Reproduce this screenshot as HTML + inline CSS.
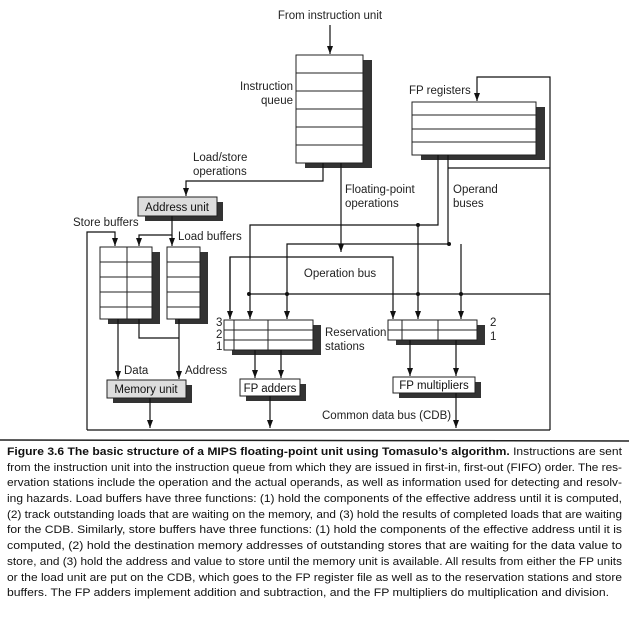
<!DOCTYPE html>
<html><head><meta charset="utf-8"><style>
html,body{margin:0;padding:0;background:#fff;}
svg{display:block;font-family:"Liberation Sans",sans-serif;}
</style></head><body>
<svg width="629" height="617" viewBox="0 0 629 617" xmlns="http://www.w3.org/2000/svg">
<defs>
<marker id="a" markerWidth="8" markerHeight="6" refX="8" refY="3" orient="auto" markerUnits="userSpaceOnUse">
<path d="M0,0 L8,3 L0,6 Z" fill="#111"/>
</marker>
</defs>
<g font-size="11.5" fill="#222">
<text x="330" y="19" text-anchor="middle">From instruction unit</text>
<text x="293" y="90" text-anchor="end">Instruction</text>
<text x="293" y="104" text-anchor="end">queue</text>
<text x="409" y="94">FP registers</text>
<text x="193" y="161">Load/store</text>
<text x="193" y="175">operations</text>
<text x="345" y="193">Floating-point</text>
<text x="345" y="207">operations</text>
<text x="453" y="193">Operand</text>
<text x="453" y="207">buses</text>
<text x="73" y="226">Store buffers</text>
<text x="178" y="240">Load buffers</text>
<text x="340" y="277" text-anchor="middle">Operation bus</text>
<text x="325" y="336">Reservation</text>
<text x="325" y="350">stations</text>
<text x="216" y="326">3</text><text x="216" y="338">2</text><text x="216" y="350">1</text>
<text x="490" y="326">2</text><text x="490" y="340">1</text>
<text x="124" y="374">Data</text>
<text x="185" y="374">Address</text>
<text x="322" y="419">Common data bus (CDB)</text>
</g>
<g fill="#333">
<rect x="363" y="60" width="9" height="108"/><rect x="305" y="163" width="67" height="5"/>
<rect x="536" y="107" width="9" height="53"/><rect x="421" y="155" width="124" height="5"/>
<rect x="217" y="202" width="6" height="19"/><rect x="145" y="216" width="78" height="5"/>
<rect x="152" y="252" width="8" height="72"/><rect x="108" y="319" width="52" height="5"/>
<rect x="200" y="252" width="8" height="72"/><rect x="175" y="319" width="33" height="5"/>
<rect x="313" y="325" width="8" height="30"/><rect x="232" y="350" width="89" height="5"/>
<rect x="477" y="325" width="8" height="20"/><rect x="396" y="340" width="89" height="5"/>
<rect x="186" y="385" width="6" height="18"/><rect x="113" y="398" width="79" height="5"/>
<rect x="300" y="384" width="6" height="17"/><rect x="246" y="396" width="60" height="5"/>
<rect x="475" y="382" width="6" height="16"/><rect x="399" y="393" width="82" height="5"/>
</g>
<g fill="#fff" stroke="#222" stroke-width="1">
<rect x="296" y="55" width="67" height="108"/>
<rect x="412" y="102" width="124" height="53"/>
<rect x="138" y="197" width="79" height="19" fill="#ddd"/>
<rect x="100" y="247" width="52" height="72"/>
<rect x="167" y="247" width="33" height="72"/>
<rect x="224" y="320" width="89" height="30"/>
<rect x="388" y="320" width="89" height="20"/>
<rect x="107" y="380" width="79" height="18" fill="#ddd"/>
<rect x="240" y="379" width="60" height="17"/>
<rect x="393" y="377" width="82" height="16"/>
</g>
<g font-size="11.5" fill="#111" text-anchor="middle">
<text x="177" y="211">Address unit</text>
<text x="146" y="393">Memory unit</text>
<text x="270" y="392">FP adders</text>
<text x="434" y="389">FP multipliers</text>
</g>
<g stroke="#222" stroke-width="1" fill="none">
<path d="M296 73H363M296 91H363M296 109H363M296 127H363M296 145H363"/>
<path d="M412 115H536M412 129H536M412 142H536"/>
<path d="M100 262H152M100 277H152M100 292H152M100 307H152M127 247V319"/>
<path d="M167 262H200M167 277H200M167 292H200M167 307H200"/>
<path d="M224 330H313M224 340H313M234 320V350M268 320V350"/>
<path d="M388 330H477M402 320V340M438 320V340"/>
</g>
<g stroke="#111" stroke-width="1.2" fill="none">
<path d="M330 25V54" marker-end="url(#a)"/>
<path d="M550 430V77H477V101" marker-end="url(#a)"/>
<path d="M448 168H550"/>
<path d="M323 163V181H186V196" marker-end="url(#a)"/>
<path d="M341 163V252" marker-end="url(#a)"/>
<path d="M87 430V232H115V246" marker-end="url(#a)"/>
<path d="M172 216V235H139V246" marker-end="url(#a)"/>
<path d="M172 235V246" marker-end="url(#a)"/>
<path d="M118 319V379" marker-end="url(#a)"/>
<path d="M179 319V379" marker-end="url(#a)"/>
<path d="M139 319V338H179"/>
<path d="M438 155V225H250V319" marker-end="url(#a)"/>
<path d="M418 225V319" marker-end="url(#a)"/>
<path d="M448 155V244H287V319" marker-end="url(#a)"/>
<path d="M461 244V319" marker-end="url(#a)"/>
<path d="M230 319V257H393V319" marker-end="url(#a)"/>
<path d="M230 257V319" marker-end="url(#a)"/>
<path d="M249 294H550"/>
<path d="M255 350V378" marker-end="url(#a)"/>
<path d="M281 350V378" marker-end="url(#a)"/>
<path d="M410 340V376" marker-end="url(#a)"/>
<path d="M456 340V376" marker-end="url(#a)"/>
<path d="M150 398V428" marker-end="url(#a)"/>
<path d="M270 396V428" marker-end="url(#a)"/>
<path d="M456 393V428" marker-end="url(#a)"/>
<path d="M87 430H550"/>
</g>
<g fill="#111">
<circle cx="418" cy="225" r="2"/><circle cx="449" cy="244" r="2"/>
<circle cx="249" cy="294" r="2"/><circle cx="287" cy="294" r="2"/>
<circle cx="418" cy="294" r="2"/><circle cx="461" cy="294" r="2"/>
</g>
<path d="M0 440 L629 441" stroke="#222" stroke-width="1.5"/>
<g font-size="11.3" fill="#111">
<text x="7" y="455" textLength="615" lengthAdjust="spacingAndGlyphs"><tspan font-weight="bold">Figure 3.6 The basic structure of a MIPS floating-point unit using Tomasulo’s algorithm.</tspan> Instructions are sent</text>
<text x="7" y="471" textLength="615" lengthAdjust="spacingAndGlyphs">from the instruction unit into the instruction queue from which they are issued in first-in, first-out (FIFO) order. The res-</text>
<text x="7" y="486" textLength="615" lengthAdjust="spacingAndGlyphs">ervation stations include the operation and the actual operands, as well as information used for detecting and resolv-</text>
<text x="7" y="502" textLength="615" lengthAdjust="spacingAndGlyphs">ing hazards. Load buffers have three functions: (1) hold the components of the effective address until it is computed,</text>
<text x="7" y="518" textLength="615" lengthAdjust="spacingAndGlyphs">(2) track outstanding loads that are waiting on the memory, and (3) hold the results of completed loads that are waiting</text>
<text x="7" y="533" textLength="615" lengthAdjust="spacingAndGlyphs">for the CDB. Similarly, store buffers have three functions: (1) hold the components of the effective address until it is</text>
<text x="7" y="549" textLength="615" lengthAdjust="spacingAndGlyphs">computed, (2) hold the destination memory addresses of outstanding stores that are waiting for the data value to</text>
<text x="7" y="565" textLength="615" lengthAdjust="spacingAndGlyphs">store, and (3) hold the address and value to store until the memory unit is available. All results from either the FP units</text>
<text x="7" y="581" textLength="615" lengthAdjust="spacingAndGlyphs">or the load unit are put on the CDB, which goes to the FP register file as well as to the reservation stations and store</text>
<text x="7" y="596" textLength="602" lengthAdjust="spacingAndGlyphs">buffers. The FP adders implement addition and subtraction, and the FP multipliers do multiplication and division.</text>
</g>
</svg>
</body></html>
